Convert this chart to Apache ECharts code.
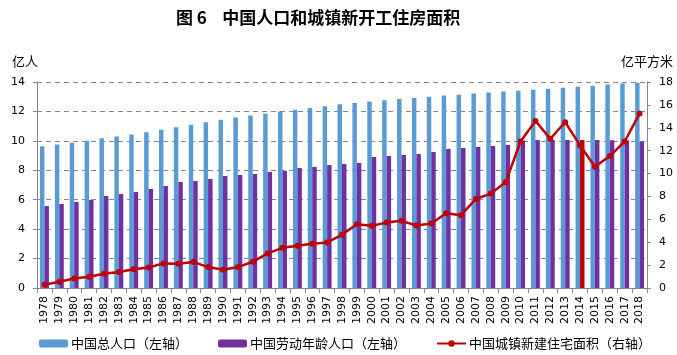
<!DOCTYPE html>
<html>
<head>
<meta charset="utf-8">
<script src="https://cdn.jsdelivr.net/npm/echarts@6/dist/echarts.min.js"></script>
<style>
  html, body { margin: 0; padding: 0; background: #fff; }
  #main { width: 677px; height: 355px; }
</style>
</head>
<body>
<div id="main"></div>
<script>
const years = ['1978','1979','1980','1981','1982','1983','1984','1985','1986','1987','1988','1989','1990','1991','1992','1993','1994','1995','1996','1997','1998','1999','2000','2001','2002','2003','2004','2005','2006','2007','2008','2009','2010','2011','2012','2013','2014','2015','2016','2017','2018'];

const totalPop = [9.63,9.75,9.87,10.01,10.17,10.30,10.44,10.59,10.75,10.93,11.10,11.27,11.43,11.58,11.72,11.85,11.99,12.11,12.24,12.36,12.48,12.58,12.67,12.76,12.85,12.92,13.00,13.08,13.14,13.21,13.28,13.35,13.41,13.47,13.54,13.61,13.68,13.75,13.83,13.90,13.95];

const laborPop = [5.57,5.71,5.85,5.98,6.25,6.39,6.53,6.73,6.93,7.20,7.27,7.41,7.61,7.68,7.75,7.89,7.95,8.16,8.23,8.36,8.43,8.50,8.90,8.97,9.04,9.10,9.24,9.45,9.52,9.59,9.65,9.72,10.03,10.05,10.05,10.06,10.06,10.05,10.04,10.03,9.94];

const housingArea = [0.29,0.55,0.83,0.99,1.24,1.40,1.63,1.79,2.15,2.12,2.28,1.83,1.60,1.83,2.29,3.02,3.51,3.69,3.86,3.98,4.65,5.57,5.43,5.72,5.87,5.46,5.63,6.53,6.36,7.78,8.25,9.23,12.80,14.60,13.04,14.49,12.46,10.60,11.53,12.80,15.24];

const highlightYear = '2014';

const leftTicks = { min: 0, max: 14, interval: 2 };
const rightTicks = { min: 0, max: 18, interval: 2 };

const chart = echarts.init(document.getElementById('main'));
const cjk = '"Noto Sans CJK SC", sans-serif';
const num = '"DejaVu Sans", sans-serif';

chart.setOption({
  animation: false,
  backgroundColor: '#fff',
  title: {
    text: '图 6    中国人口和城镇新开工住房面积',
    left: 176,
    top: 9,
    padding: 0,
    textStyle: { fontFamily: cjk, fontSize: 17, fontWeight: 'bold', color: '#000' }
  },
  grid: { left: 37, right: 30, top: 82, bottom: 67 },
  legend: {
    left: 39,
    top: 337,
    padding: 0,
    itemWidth: 29,
    itemHeight: 8,
    itemGap: 30,
    textStyle: { fontFamily: cjk, fontSize: 13, color: '#000', padding: [0, 0, 0, -2] },
    data: ['中国总人口（左轴）', '中国劳动年龄人口（左轴）', '中国城镇新建住宅面积（右轴）']
  },
  xAxis: {
    type: 'category',
    data: years,
    boundaryGap: true,
    axisLine: { lineStyle: { color: '#888', width: 1 } },
    axisTick: { show: true, interval: 0, length: 5, lineStyle: { color: '#888' } },
    axisLabel: { interval: 0, rotate: 90, fontFamily: num, fontSize: 11, color: '#000', margin: 8 }
  },
  yAxis: [
    {
      type: 'value',
      min: leftTicks.min, max: leftTicks.max, interval: leftTicks.interval,
      name: '亿人',
      nameLocation: 'end',
      nameGap: 14,
      nameTextStyle: { fontFamily: cjk, fontSize: 13, color: '#000', align: 'right', padding: [0, -1, 0, 0] },
      axisLine: { show: true, lineStyle: { color: '#888' } },
      axisTick: { show: true, length: 4, lineStyle: { color: '#888' } },
      axisLabel: { fontFamily: num, fontSize: 11, color: '#000', margin: 12 },
      splitLine: { show: true, lineStyle: { color: '#888', type: [5, 4], width: 1 } }
    },
    {
      type: 'value',
      min: rightTicks.min, max: rightTicks.max, interval: rightTicks.interval,
      name: '亿平方米',
      nameLocation: 'end',
      nameGap: 14,
      nameTextStyle: { fontFamily: cjk, fontSize: 13, color: '#000', align: 'center' },
      position: 'right',
      axisLine: { show: true, lineStyle: { color: '#888' } },
      axisTick: { show: true, length: 4, lineStyle: { color: '#888' } },
      axisLabel: { fontFamily: num, fontSize: 11, color: '#000', margin: 12 },
      splitLine: { show: false }
    }
  ],
  series: [
    {
      name: '中国总人口（左轴）',
      type: 'bar',
      yAxisIndex: 0,
      barWidth: '30%',
      barGap: '0%',
      itemStyle: { color: '#5B9BD5' },
      data: totalPop
    },
    {
      name: '中国劳动年龄人口（左轴）',
      type: 'bar',
      yAxisIndex: 0,
      barWidth: '30%',
      barGap: '0%',
      itemStyle: { color: '#7030A0' },
      data: laborPop.map((v, i) => years[i] === highlightYear ? { value: v, itemStyle: { color: '#C00000' } } : v)
    },
    {
      name: '中国城镇新建住宅面积（右轴）',
      type: 'line',
      yAxisIndex: 1,
      z: 5,
      symbol: 'circle',
      symbolSize: 6,
      lineStyle: { color: '#C00000', width: 2.5 },
      itemStyle: { color: '#C00000' },
      data: housingArea
    }
  ]
});
</script>
</body>
</html>
